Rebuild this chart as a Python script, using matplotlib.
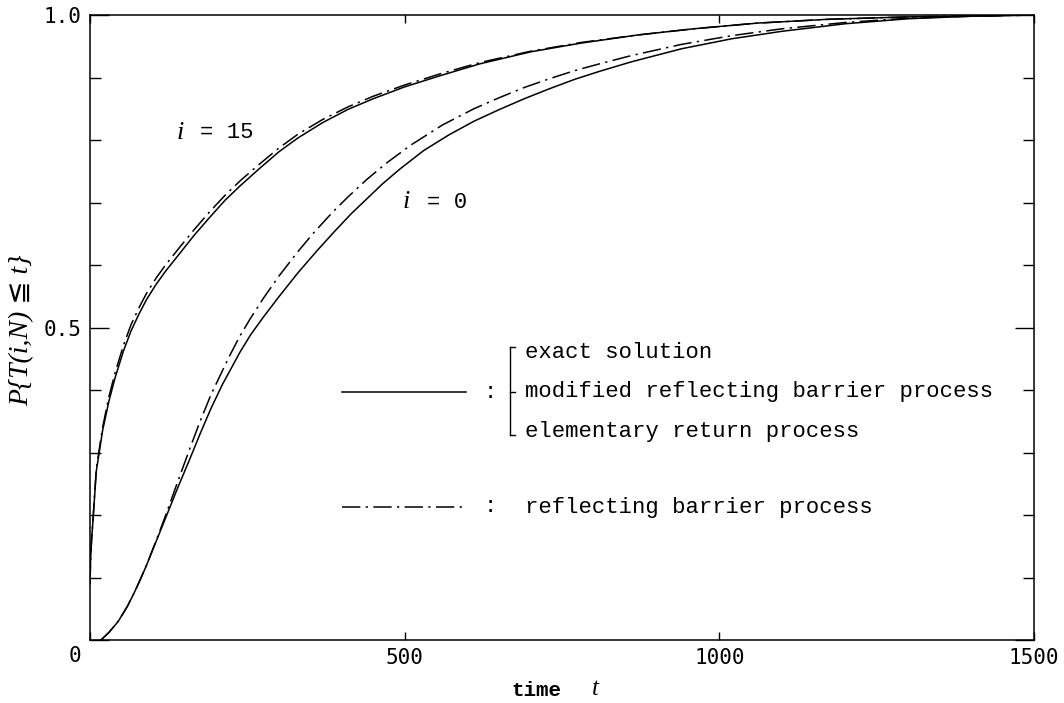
import matplotlib
matplotlib.use("Agg")
import matplotlib.pyplot as plt
from matplotlib.lines import Line2D

# ---------------- data ----------------
t_i15 = [0, 1, 2.5, 5, 10, 20, 30, 40, 53, 65, 78, 90, 105, 120, 143, 165, 190,
         215, 240, 270, 300, 330, 370, 410, 450, 500, 560, 620, 700, 780, 870,
         960, 1060, 1170, 1300, 1500]
p_i15_exact = [0.09, 0.13, 0.16, 0.195, 0.27, 0.335, 0.382, 0.42, 0.462, 0.494,
               0.522, 0.545, 0.569, 0.59, 0.619, 0.647, 0.676, 0.704, 0.728,
               0.755, 0.781, 0.803, 0.828, 0.849, 0.866, 0.885, 0.904, 0.922,
               0.941, 0.955, 0.968, 0.978, 0.987, 0.993, 0.997, 1.0]
p_i15_refl = [0.09, 0.13, 0.16, 0.197, 0.274, 0.34, 0.389, 0.428, 0.471, 0.504,
              0.532, 0.555, 0.579, 0.6, 0.629, 0.656, 0.685, 0.712, 0.736,
              0.762, 0.787, 0.809, 0.833, 0.853, 0.87, 0.888, 0.907, 0.924,
              0.942, 0.956, 0.968, 0.978, 0.987, 0.993, 0.997, 1.0]

t_i0_exact = [17.5, 30, 45, 60, 70, 80, 90, 100, 110, 120, 140, 160, 175, 192,
              210, 238, 255, 275, 300, 330, 360, 387, 415, 440, 465, 493, 530,
              570, 610, 651, 690, 730, 770, 810, 860, 940, 1020, 1100, 1200,
              1300, 1400, 1500]
p_i0_exact = [0, 0.012, 0.03, 0.055, 0.075, 0.097, 0.12, 0.145, 0.17, 0.195,
              0.245, 0.293, 0.33, 0.37, 0.408, 0.46, 0.488, 0.516, 0.549, 0.587,
              0.622, 0.652, 0.682, 0.706, 0.73, 0.754, 0.783, 0.808, 0.83,
              0.849, 0.866, 0.882, 0.897, 0.91, 0.925, 0.946, 0.962, 0.974,
              0.986, 0.994, 0.998, 1.0]

t_i0_refl = [17.5, 30, 45, 60, 70, 80, 90, 100, 110, 120, 140, 160, 175, 192,
             210, 222, 238, 254, 275, 300, 330, 355, 385, 410, 440, 471, 510,
             560, 610, 651, 690, 730, 770, 810, 860, 940, 1020, 1100, 1200,
             1300, 1400, 1500]
p_i0_refl = [0, 0.012, 0.03, 0.055, 0.075, 0.097, 0.12, 0.146, 0.172, 0.199,
             0.255, 0.31, 0.35, 0.392, 0.43, 0.455, 0.486, 0.513, 0.546, 0.582,
             0.621, 0.651, 0.684, 0.709, 0.737, 0.763, 0.792, 0.824, 0.85,
             0.868, 0.884, 0.898, 0.911, 0.922, 0.935, 0.953, 0.967, 0.978,
             0.988, 0.995, 0.998, 1.0]

xticks = [0, 500, 1000, 1500]
xticklabels = ["", "500", "1000", "1500"]
yticks = [0, 0.5, 1.0]
yticklabels = ["", "0.5", "1.0"]
yminor = [0.1, 0.2, 0.3, 0.4, 0.6, 0.7, 0.8, 0.9]

legend_rows = ["exact solution", "modified reflecting barrier process",
               "elementary return process"]
legend_refl = "reflecting barrier process"

# ---------------- figure ----------------
W, H = 1064, 703
fig = plt.figure(figsize=(W / 100, H / 100), dpi=100)
fig.patch.set_facecolor("white")


def fx(px):
    return px / W


def fy(py):
    return 1 - py / H


L, R, T, B = 90, 1034, 15, 640
ax = fig.add_axes([fx(L), fy(B), (R - L) / W, (B - T) / H])

DASHDOT = (0, (12, 3.5, 1.5, 3.5))
LW = 1.1

ax.plot(t_i15, p_i15_exact, color="black", lw=LW, solid_joinstyle="round")
ax.plot(t_i15, p_i15_refl, color="black", lw=LW, linestyle=DASHDOT)
ax.plot(t_i0_exact, p_i0_exact, color="black", lw=LW, solid_joinstyle="round")
ax.plot(t_i0_refl, p_i0_refl, color="black", lw=LW, linestyle=DASHDOT)

ax.set_xlim(0, 1500)
ax.set_ylim(0, 1.0)
for s in ax.spines.values():
    s.set_linewidth(1.1)

tick_font = {"family": "DejaVu Sans Mono", "size": 15}
ax.set_xticks(xticks)
ax.set_xticklabels(xticklabels, fontdict=tick_font)
ax.set_yticks(yticks)
ax.set_yticklabels(yticklabels, fontdict=tick_font)
ax.set_yticks(yminor, minor=True)
ax.tick_params(axis="x", which="major", direction="in", length=6, width=1,
               top=True, pad=6)
ax.tick_params(axis="y", which="major", direction="in", length=14, width=1,
               right=True, pad=6)
ax.tick_params(axis="y", which="minor", direction="in", length=8, width=1,
               right=True)

# "0" label at the corner (offset left like the original)
fig.text(fx(75), fy(656), "0", ha="center", va="center", **tick_font)

# axis labels
fig.text(fx(536), fy(691), "time", ha="center", va="center",
         family="Liberation Mono", size=15, weight="bold")
fig.text(fx(595), fy(689), "t", ha="center", va="center",
         family="Liberation Serif", style="italic", size=18)
fig.text(fx(22), fy(330), "P{T(i,N) \u2266 t}", rotation=90, ha="center",
         va="center", family=["Liberation Serif", "DejaVu Serif", "DejaVu Sans"],
         style="italic", size=20)

# curve labels
mono = dict(family="Liberation Mono", size=16)
ital = dict(family="Liberation Serif", style="italic", size=19)
fig.text(fx(180), fy(133), "i", ha="center", va="center", **ital)
fig.text(fx(200), fy(133), "= 15", ha="left", va="center", **mono)
fig.text(fx(406), fy(202), "i", ha="center", va="center", **ital)
fig.text(fx(427), fy(202), "= 0", ha="left", va="center", **mono)

# legend block
row_y = [352, 392, 432]
fig.add_artist(Line2D([fx(342), fx(466)], [fy(392), fy(392)], color="black",
                      lw=LW))
fig.text(fx(490), fy(392), ":", ha="center", va="center", **mono)
bx = 510
fig.add_artist(Line2D([fx(bx), fx(bx)], [fy(347), fy(435)], color="black",
                      lw=1.0))
for yy in (347, 392, 435):
    fig.add_artist(Line2D([fx(bx), fx(bx + 5)], [fy(yy), fy(yy)],
                          color="black", lw=1.0))
for txt, yy in zip(legend_rows, row_y):
    fig.text(fx(525), fy(yy), txt, ha="left", va="center", **mono)

fig.add_artist(Line2D([fx(342), fx(466)], [fy(507), fy(507)], color="black",
                      lw=LW, linestyle=DASHDOT))
fig.text(fx(490), fy(507), ":", ha="center", va="center", **mono)
fig.text(fx(525), fy(507), legend_refl, ha="left", va="center", **mono)

fig.savefig("out.png", dpi=100, facecolor="white")
